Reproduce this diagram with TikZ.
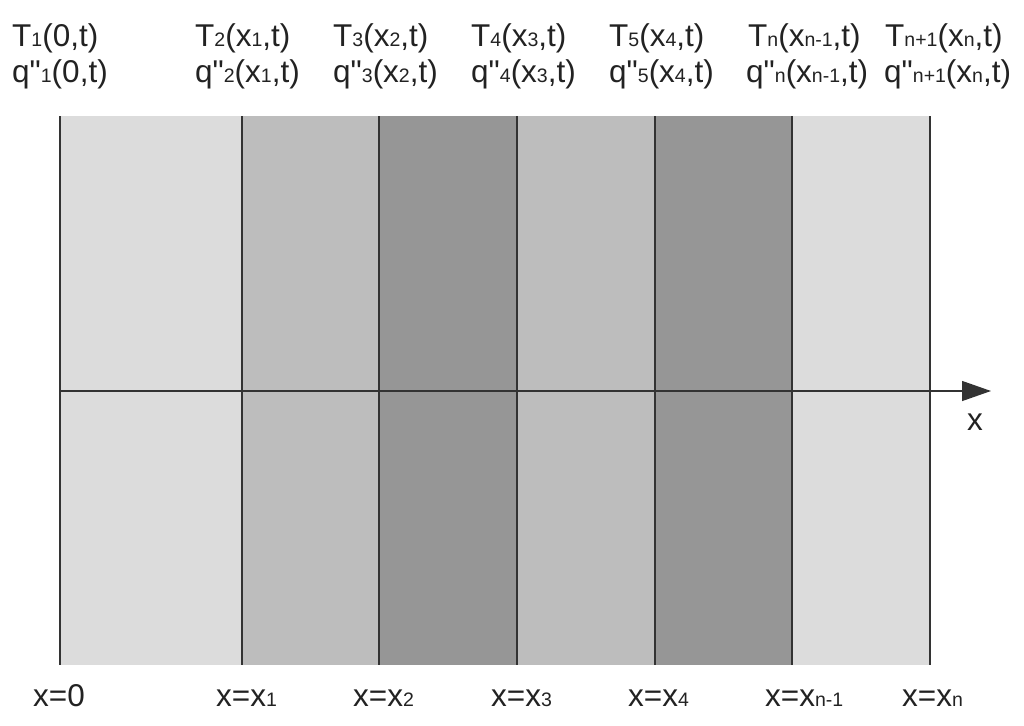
\documentclass[tikz,border=0pt]{standalone}
\usepackage{fontspec}
\setmainfont{Liberation Sans}[Ligatures=TeXOff]
\usetikzlibrary{arrows.meta}
\definecolor{bandA}{HTML}{DCDCDC}
\definecolor{bandB}{HTML}{BDBDBD}
\definecolor{bandC}{HTML}{969696}
\definecolor{ink}{HTML}{222222}
\definecolor{edge}{HTML}{333333}
\newcommand{\subs}[1]{{\fontsize{19.5}{19.5}\selectfont\raisebox{-0.5pt}{#1}}}
\tikzset{
  lab/.style={anchor=base west, inner sep=0pt, text=ink, font=\fontsize{31.5}{36}\selectfont},
  divider/.style={draw=edge, line width=1.3pt},
  axis/.style={draw=edge, line width=1.3pt, -{Triangle[length=29pt,width=20pt]}}
}
\begin{document}
\begin{tikzpicture}[x=1pt,y=-1pt]
\useasboundingbox (0,0) rectangle (1024,725);
% boundaries
\foreach \n/\xx in {0/60,1/242,2/379,3/517,4/655,5/792,6/930}{
  \coordinate (t\n) at (\xx,116);
  \coordinate (b\n) at (\xx,665);
}
% bands
\fill[bandA] (t0) rectangle (b1);
\fill[bandB] (t1) rectangle (b2);
\fill[bandC] (t2) rectangle (b3);
\fill[bandB] (t3) rectangle (b4);
\fill[bandC] (t4) rectangle (b5);
\fill[bandA] (t5) rectangle (b6);
% dividers
\foreach \n in {0,...,6}{ \draw[divider] (t\n) -- (b\n); }
% axis
\coordinate (ax0) at (60,391);
\coordinate (ax1) at (991,391);
\draw[axis] (ax0) -- (ax1);
\node[lab] (xlab) at (967,430) {x};
% top labels
\node[lab] (T1) at (12,46) {T\subs{1}(0,t)};
\node[lab] (q1) at (12,82) {q"\subs{1}(0,t)};
\node[lab] (T2) at (195,46) {T\subs{2}(x\subs{1},t)};
\node[lab] (q2) at (195,82) {q"\subs{2}(x\subs{1},t)};
\node[lab] (T3) at (333,46) {T\subs{3}(x\subs{2},t)};
\node[lab] (q3) at (333,82) {q"\subs{3}(x\subs{2},t)};
\node[lab] (T4) at (471,46) {T\subs{4}(x\subs{3},t)};
\node[lab] (q4) at (471,82) {q"\subs{4}(x\subs{3},t)};
\node[lab] (T5) at (609,46) {T\subs{5}(x\subs{4},t)};
\node[lab] (q5) at (609,82) {q"\subs{5}(x\subs{4},t)};
\node[lab] (Tn) at (748,46) {T\subs{n}(x\subs{n-1},t)};
\node[lab] (qn) at (746,82) {q"\subs{n}(x\subs{n-1},t)};
\node[lab] (Tm) at (885,46) {T\subs{n+1}(x\subs{n},t)};
\node[lab] (qm) at (884,82) {q"\subs{n+1}(x\subs{n},t)};
% bottom labels
\node[lab] (B0) at (33,706) {x=0};
\node[lab] (B1) at (216,706) {x=x\subs{1}};
\node[lab] (B2) at (353,706) {x=x\subs{2}};
\node[lab] (B3) at (491,706) {x=x\subs{3}};
\node[lab] (B4) at (628,706) {x=x\subs{4}};
\node[lab] (B5) at (765,706) {x=x\subs{n-1}};
\node[lab] (B6) at (902,706) {x=x\subs{n}};
\end{tikzpicture}
\end{document}
